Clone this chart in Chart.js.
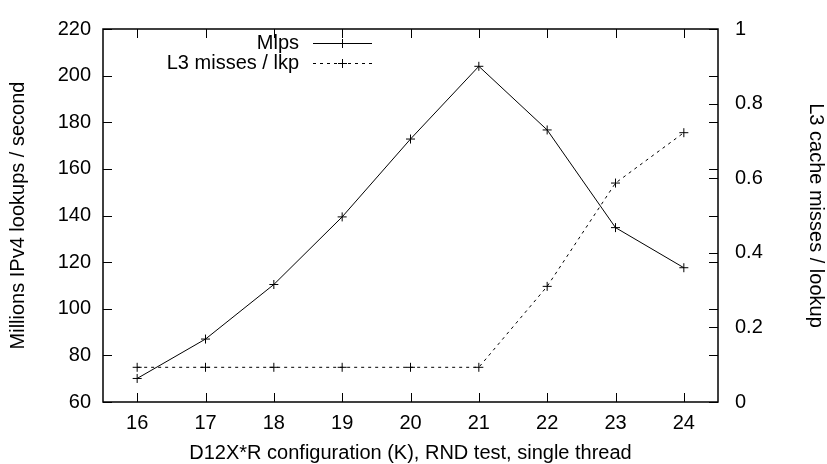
<!DOCTYPE html>
<html>
<head>
<meta charset="utf-8">
<script src="https://cdn.jsdelivr.net/npm/chart.js@4.4.1/dist/chart.umd.min.js"></script>
<style>
  body { margin: 0; background: #fff; }
  #wrap { width: 827px; height: 464px; }
</style>
</head>
<body>
<div id="wrap"><canvas id="chart" width="827" height="464"></canvas></div>
<script>
// valeurs
const configs = [16, 17, 18, 19, 20, 21, 22, 23, 24];
const mlps = [70.1, 87, 110.4, 139.4, 172.8, 204, 176.7, 134.8, 117.6];
const l3Misses = [0.093, 0.093, 0.093, 0.093, 0.093, 0.093, 0.31, 0.587, 0.722];

const yTicks = [60, 80, 100, 120, 140, 160, 180, 200, 220];
const y2Ticks = [0, 0.2, 0.4, 0.6, 0.8, 1];
const y2Labels = ['0', '0.2', '0.4', '0.6', '0.8', '1'];

const FONT = { family: '"Liberation Sans", Arial, Helvetica, sans-serif', size: 20 };
const TICK = 9;

// cadre, graduations vers l'intérieur et légende à la gnuplot
const framePlugin = {
  id: 'frame',
  afterDatasetsDraw(chart) {
    const ctx = chart.ctx;
    const a = chart.chartArea;
    const sx = chart.scales.x, sy = chart.scales.y, sy2 = chart.scales.y2;
    ctx.save();
    ctx.strokeStyle = '#000';
    ctx.lineWidth = 1;
    ctx.beginPath();
    configs.forEach(v => {
      const px = Math.round(sx.getPixelForValue(v)) + 0.5;
      ctx.moveTo(px, a.bottom); ctx.lineTo(px, a.bottom - TICK);
      ctx.moveTo(px, a.top); ctx.lineTo(px, a.top + TICK);
    });
    yTicks.forEach(v => {
      const py = Math.round(sy.getPixelForValue(v)) + 0.5;
      ctx.moveTo(a.left, py); ctx.lineTo(a.left + TICK, py);
      ctx.moveTo(a.right, py); ctx.lineTo(a.right - TICK, py);
    });
    y2Ticks.forEach(v => {
      const py = Math.round(sy2.getPixelForValue(v)) + 0.5;
      ctx.moveTo(a.right, py); ctx.lineTo(a.right - TICK, py);
    });
    ctx.stroke();

    ctx.lineWidth = 1.5;
    ctx.strokeRect(a.left, a.top, a.right - a.left, a.bottom - a.top);

    // légende
    ctx.font = FONT.size + 'px ' + FONT.family;
    ctx.fillStyle = '#000';
    ctx.textAlign = 'right';
    ctx.textBaseline = 'middle';
    chart.data.datasets.forEach((ds, i) => {
      const y = 43.5 + i * 20;
      ctx.fillText(ds.label, 299, y);
      ctx.lineWidth = 1;
      ctx.setLineDash(ds.borderDash || []);
      ctx.beginPath();
      ctx.moveTo(313, y); ctx.lineTo(372, y);
      ctx.stroke();
      ctx.setLineDash([]);
      ctx.beginPath();
      ctx.moveTo(342.5 - 4.5, y); ctx.lineTo(342.5 + 4.5, y);
      ctx.moveTo(342.5, y - 4.5); ctx.lineTo(342.5, y + 4.5);
      ctx.stroke();
    });
    ctx.restore();
  }
};

new Chart(document.getElementById('chart'), {
  type: 'line',
  data: {
    datasets: [{
      label: 'Mlps',
      data: configs.map((c, i) => ({ x: c, y: mlps[i] })),
      yAxisID: 'y',
      borderColor: '#000',
      borderWidth: 1,
      pointStyle: 'cross',
      pointRadius: 4.5,
      pointBorderWidth: 1,
      pointBorderColor: '#000',
      tension: 0,
      fill: false
    }, {
      label: 'L3 misses / lkp',
      data: configs.map((c, i) => ({ x: c, y: l3Misses[i] })),
      yAxisID: 'y2',
      borderColor: '#000',
      borderWidth: 1,
      borderDash: [3, 4],
      pointStyle: 'cross',
      pointRadius: 4.5,
      pointBorderWidth: 1,
      pointBorderColor: '#000',
      tension: 0,
      fill: false
    }]
  },
  options: {
    responsive: false,
    animation: false,
    devicePixelRatio: 1,
    layout: { padding: { top: 23, left: 0, right: 0, bottom: 0 } },
    plugins: { legend: { display: false }, tooltip: { enabled: false } },
    scales: {
      x: {
        type: 'linear',
        min: 15.5,
        max: 24.5,
        afterBuildTicks: s => { s.ticks = configs.map(v => ({ value: v })); },
        afterFit: s => { s.height = 62; },
        grid: { display: false, drawTicks: false },
        border: { display: false },
        ticks: { color: '#000', font: FONT, padding: 9, maxRotation: 0, autoSkip: false },
        title: {
          display: true,
          text: 'D12X*R configuration (K), RND test, single thread',
          color: '#000',
          font: { ...FONT, lineHeight: 1.1 },
          padding: { top: 0, bottom: 0 }
        }
      },
      y: {
        type: 'linear',
        position: 'left',
        min: 60,
        max: 220,
        afterBuildTicks: s => { s.ticks = yTicks.map(v => ({ value: v })); },
        afterFit: s => { s.width = 103; },
        grid: { display: false, drawTicks: false },
        border: { display: false },
        ticks: { color: '#000', font: FONT, padding: 12 },
        title: {
          display: true,
          text: 'Millions IPv4 lookups / second',
          color: '#000',
          font: { ...FONT, lineHeight: 1.1 },
          padding: { top: 7, bottom: 0 }
        }
      },
      y2: {
        type: 'linear',
        position: 'right',
        min: 0,
        max: 1,
        afterBuildTicks: s => { s.ticks = y2Ticks.map(v => ({ value: v })); },
        afterFit: s => { s.width = 109; },
        grid: { display: false, drawTicks: false },
        border: { display: false },
        ticks: {
          color: '#000',
          font: FONT,
          padding: 17,
          callback: (v, i) => y2Labels[i]
        },
        title: {
          display: true,
          text: 'L3 cache misses / lookup',
          color: '#000',
          font: { ...FONT, lineHeight: 1.1 },
          padding: { top: 0, bottom: 0 }
        }
      }
    }
  },
  plugins: [framePlugin]
});
</script>
</body>
</html>
